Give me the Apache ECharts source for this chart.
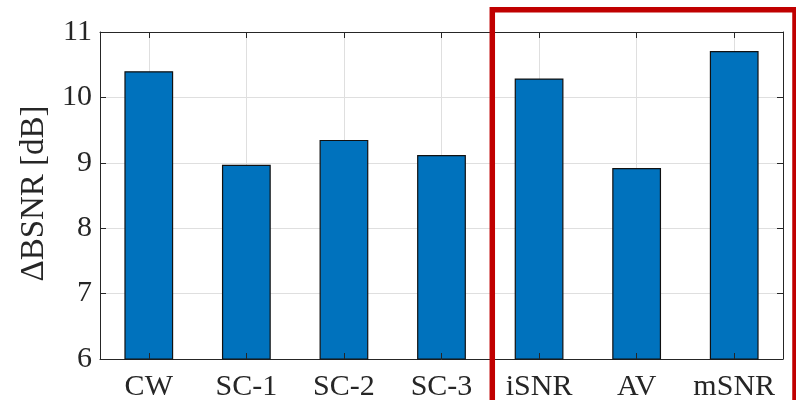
<!DOCTYPE html>
<html>
<head>
<meta charset="utf-8">
<script src="https://cdn.jsdelivr.net/npm/echarts@6/dist/echarts.min.js"></script>
<style>html,body{margin:0;padding:0;background:#fff}#c{width:796px;height:400px}</style>
</head>
<body>
<div id="c"></div>
<script>
const categories = ['CW', 'SC-1', 'SC-2', 'SC-3', 'iSNR', 'AV', 'mSNR'];
const deltaBSNR = [10.40, 8.97, 9.35, 9.12, 10.29, 8.92, 10.71];
const yTicks = [6, 7, 8, 9, 10, 11];
const yAxisName = 'ΔBSNR [dB]';

const FONT = "'Liberation Serif', 'Times New Roman', Times, serif";
const AX = '#262626';
const chart = echarts.init(document.getElementById('c'), null, {renderer: 'canvas'});
const tickStyle = {color: AX, width: 1};
chart.setOption({
  animation: false,
  grid: {left: 100, top: 32, right: 13, bottom: 41, containLabel: false, outerBoundsMode: 'none'},
  xAxis: [
    {type: 'category', data: categories, position: 'bottom', z: 0,
     axisLine: {show: true, lineStyle: {color: AX, width: 1}},
     axisTick: {show: false, interval: 0},
     axisLabel: {interval: 0, color: AX, fontFamily: FONT, fontSize: 30, margin: 13},
     splitLine: {show: true, interval: 0, alignWithLabel: true, lineStyle: {color: '#dfdfdf', width: 1}}},
    {type: 'category', data: categories, position: 'top', z: 10,
     axisLine: {show: true, lineStyle: {color: AX, width: 1}},
     axisTick: {show: true, interval: 0, inside: true, alignWithLabel: true, length: 6, lineStyle: tickStyle},
     axisLabel: {show: false, interval: 0}, splitLine: {show: false}},
    {type: 'category', data: categories, position: 'bottom', offset: 0, z: 10,
     axisLine: {show: false},
     axisTick: {show: true, interval: 0, inside: true, alignWithLabel: true, length: 6, lineStyle: tickStyle},
     axisLabel: {show: false, interval: 0}, splitLine: {show: false}}
  ],
  yAxis: [
    {type: 'value', min: yTicks[0], max: yTicks[yTicks.length - 1], interval: 1, position: 'left',
     name: yAxisName, nameLocation: 'middle', nameGap: 46,
     nameTextStyle: {color: AX, fontFamily: FONT, fontSize: 33, padding: [0, 0, 0, 4]},
     axisLine: {show: true, lineStyle: {color: AX, width: 1}},
     axisTick: {show: true, inside: true, length: 6, lineStyle: tickStyle},
     axisLabel: {color: AX, fontFamily: FONT, fontSize: 30, margin: 8},
     splitLine: {show: true, lineStyle: {color: '#dfdfdf', width: 1}}},
    {type: 'value', min: yTicks[0], max: yTicks[yTicks.length - 1], interval: 1, position: 'right',
     axisLine: {show: true, lineStyle: {color: AX, width: 1}},
     axisTick: {show: true, inside: true, length: 6, lineStyle: tickStyle},
     axisLabel: {show: false}, splitLine: {show: false}}
  ],
  series: [{
    type: 'bar', xAxisIndex: 0, yAxisIndex: 0, data: deltaBSNR, barWidth: '50%',
    itemStyle: {color: '#0072BD', borderColor: '#111', borderWidth: 1.2}
  }]
});

// red highlight box around the last three categories
const p3 = chart.convertToPixel({xAxisIndex: 0}, categories[3]);
const p4 = chart.convertToPixel({xAxisIndex: 0}, categories[4]);
const left = (p3 + p4) / 2 + 2;
chart.setOption({
  graphic: [{
    type: 'rect', z: 100, silent: true,
    shape: {x: left, y: 9.7, width: 795 - left, height: 430},
    style: {fill: 'none', stroke: '#C00000', lineWidth: 5.5}
  }]
});
</script>
</body>
</html>
